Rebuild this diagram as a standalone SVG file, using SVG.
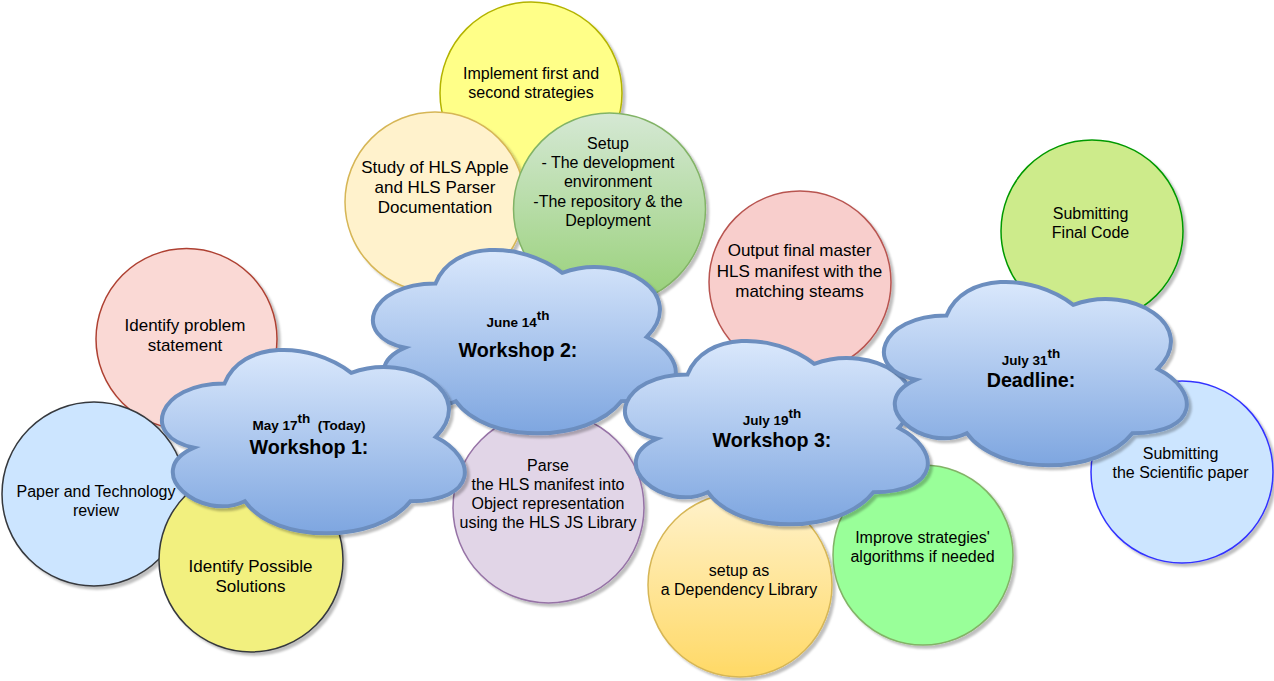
<svg xmlns="http://www.w3.org/2000/svg" xmlns:xlink="http://www.w3.org/1999/xlink" width="1274" height="681" viewBox="0 0 1274 681">
<defs>
<filter id="sh" x="-10%" y="-10%" width="125%" height="125%">
<feDropShadow dx="3" dy="3" stdDeviation="1" flood-color="#000" flood-opacity="0.25"/>
</filter>
<linearGradient id="gCloud" x1="0" y1="0" x2="0" y2="1">
<stop offset="0" stop-color="#dae8fc"/><stop offset="1" stop-color="#7ea6e0"/>
</linearGradient>
<linearGradient id="gGreen" x1="0" y1="0" x2="0" y2="1">
<stop offset="0" stop-color="#d5e8d4"/><stop offset="1" stop-color="#97d077"/>
</linearGradient>
<linearGradient id="gOrange" x1="0" y1="0" x2="0" y2="1">
<stop offset="0" stop-color="#fff2cc"/><stop offset="1" stop-color="#ffd966"/>
</linearGradient>
<path id="cloudShape" d="M84.5 53.5 C16.9 53.5 0 107 54.08 117.7 C0 141.24 60.84 192.6 104.78 171.2 C135.2 214 236.6 214 270.4 171.2 C338 171.2 338 128.4 295.75 107 C338 64.2 270.4 21.4 211.25 42.8 C169 10.7 101.4 10.7 84.5 53.5 Z"/>
</defs>
<style>
.c{stroke-width:1.5;filter:url(#sh)}
.cloud{fill:url(#gCloud);stroke:#6c8ebf;stroke-width:4;filter:url(#sh)}
.t{font-family:"Liberation Sans",Arial,Helvetica,sans-serif;font-size:16px;fill:#000;text-anchor:middle}
.t17{font-size:17px}
.d{font-family:"Liberation Sans",Arial,Helvetica,sans-serif;font-size:13.5px;font-weight:bold;fill:#000;text-anchor:middle}
.w{font-family:"Liberation Sans",Arial,Helvetica,sans-serif;font-size:19.7px;font-weight:bold;fill:#000;text-anchor:middle}
</style>
<rect width="1274" height="681" fill="#ffffff"/>
<g id="connectors"></g>

<g id="n-implement">
<circle class="c" cx="531" cy="93" r="91" fill="#ffff88" stroke="#b3b300"/>
<text class="t" x="531" y="79">Implement first and</text>
<text class="t" x="531" y="98">second strategies</text>
</g>
<g id="n-study">
<circle class="c" cx="435" cy="202" r="90" fill="#fff2cc" stroke="#d6b656"/>
<text class="t t17" x="435" y="173">Study of HLS Apple</text>
<text class="t t17" x="435" y="193">and HLS Parser</text>
<text class="t t17" x="435" y="213">Documentation</text>
</g>
<g id="n-setup">
<circle class="c" cx="609.5" cy="209" r="96" fill="url(#gGreen)" stroke="#82b366"/>
<text class="t" x="608" y="149">Setup</text>
<text class="t" x="608" y="168.2">- The development</text>
<text class="t" x="608" y="187.4">environment</text>
<text class="t" x="608" y="206.6">-The repository &amp; the</text>
<text class="t" x="608" y="225.8">Deployment</text>
</g>
<g id="n-problem">
<circle class="c" cx="186.5" cy="339" r="90.5" fill="#fad9d5" stroke="#ae4132"/>
<text class="t t17" x="185" y="331">Identify problem</text>
<text class="t t17" x="185" y="351">statement</text>
</g>
<g id="n-paper">
<circle class="c" cx="94" cy="494" r="92" fill="#cce5ff" stroke="#36393d"/>
<text class="t" x="96" y="497">Paper and Technology</text>
<text class="t" x="96" y="516">review</text>
</g>
<g id="n-solutions">
<circle class="c" cx="251" cy="560" r="92" fill="#f2f07f" stroke="#36393d"/>
<text class="t t17" x="250.5" y="572">Identify Possible</text>
<text class="t t17" x="250.5" y="592">Solutions</text>
</g>
<g id="n-parse">
<circle class="c" cx="548.5" cy="507.5" r="95.5" fill="#e1d5e7" stroke="#9673a6"/>
<text class="t" x="548" y="471">Parse</text>
<text class="t" x="548" y="490">the HLS manifest into</text>
<text class="t" x="548" y="509">Object representation</text>
<text class="t" x="548" y="528">using the HLS JS Library</text>
</g>
<g id="n-dependency">
<circle class="c" cx="740" cy="585" r="92" fill="url(#gOrange)" stroke="#d6b656"/>
<text class="t" x="739" y="576">setup as</text>
<text class="t" x="739" y="595">a Dependency Library</text>
</g>
<g id="n-improve">
<circle class="c" cx="923" cy="555" r="90" fill="#99ff99" stroke="#82b366"/>
<text class="t" x="922.5" y="543">Improve strategies'</text>
<text class="t" x="922.5" y="562">algorithms if needed</text>
</g>
<g id="n-output">
<circle class="c" cx="800" cy="282" r="91" fill="#f8cecc" stroke="#b85450"/>
<text class="t t17" x="799.5" y="256">Output final master</text>
<text class="t t17" x="799.5" y="276.5">HLS manifest with the</text>
<text class="t t17" x="799.5" y="297">matching steams</text>
</g>
<g id="n-finalcode">
<circle class="c" cx="1092" cy="231" r="91" fill="#cdeb8b" stroke="#009900"/>
<text class="t" x="1090.5" y="219">Submitting</text>
<text class="t" x="1090.5" y="238">Final Code</text>
</g>
<g id="n-paper-submit">
<circle class="c" cx="1182" cy="472" r="91" fill="#cce5ff" stroke="#3333ff"/>
<text class="t" x="1180.5" y="459">Submitting</text>
<text class="t" x="1180.5" y="478">the Scientific paper</text>
</g>

<g id="n-workshop2">
<use xlink:href="#cloudShape" href="#cloudShape" class="cloud" transform="translate(351 230)"/>
<text class="d" x="518" y="327">June 14<tspan dy="-7">th</tspan></text>
<text class="w" x="518" y="357">Workshop 2:</text>
</g>
<g id="n-workshop1">
<use xlink:href="#cloudShape" href="#cloudShape" class="cloud" transform="translate(140 330)"/>
<text class="d" x="309" y="430">May 17<tspan dy="-7">th</tspan><tspan dy="7">&#160; (Today)</tspan></text>
<text class="w" x="309" y="454">Workshop 1:</text>
</g>
<g id="n-workshop3">
<use xlink:href="#cloudShape" href="#cloudShape" class="cloud" transform="translate(603 321)"/>
<text class="d" x="772" y="425">July 19<tspan dy="-7">th</tspan></text>
<text class="w" x="772" y="447">Workshop 3:</text>
</g>
<g id="n-deadline">
<use xlink:href="#cloudShape" href="#cloudShape" class="cloud" transform="translate(862 262)"/>
<text class="d" x="1031" y="365">July 31<tspan dy="-7">th</tspan></text>
<text class="w" x="1031" y="387">Deadline:</text>
</g>
</svg>
